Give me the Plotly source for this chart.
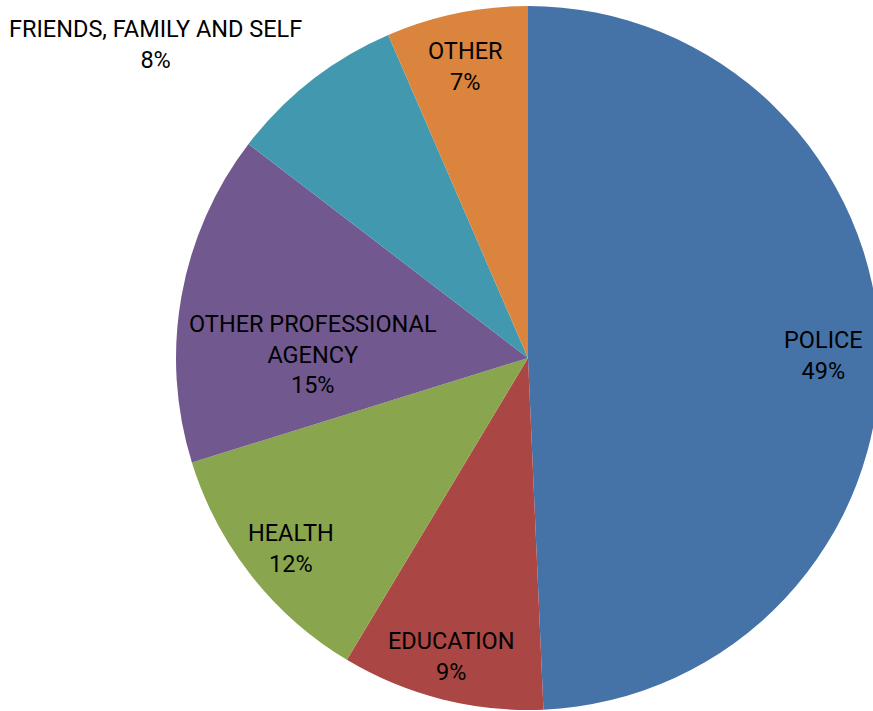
import math
import plotly.graph_objects as go

categories = ["POLICE", "EDUCATION", "HEALTH", "OTHER PROFESSIONAL<br>AGENCY",
              "FRIENDS, FAMILY AND SELF", "OTHER"]
values = [49.3, 9.3, 11.6, 15.2, 8.1, 6.5]
colors = ["#4572A7", "#AA4643", "#89A54E", "#71588F", "#4198AF", "#DB843D"]

# label placement style (radial fraction of radius, angle offset in degrees)
label_frac = [0.84, 0.876, 0.864, 0.61, 1.383, 0.846]
label_dang = [0.7, 0.1, -0.7, -9.1, -12.0, -0.5]

W, H = 880, 711
cx, cy, r = 528.0, 358.0, 352.0  # pixel geometry of the pie

fig = go.Figure(go.Pie(
    labels=categories,
    values=values,
    sort=False,
    direction="clockwise",
    rotation=0,
    marker=dict(colors=colors, line=dict(width=0)),
    textinfo="none",
    hoverinfo="label+percent",
    showlegend=False,
    domain=dict(x=[(cx - r) / W, min(1.0, (cx + r) / W)],
                y=[max(0.0, 1 - (cy + r) / H), min(1.0, 1 - (cy - r) / H)]),
))

total = sum(values)
cum = 0.0
annotations = []
for lab, v, f, da in zip(categories, values, label_frac, label_dang):
    mid = (cum + v / 2) / total * 360.0 + da
    cum += v
    th = math.radians(mid)
    px = cx + f * r * math.sin(th)
    py = cy - f * r * math.cos(th)
    pct = int(math.floor(v / total * 100 + 0.5))
    annotations.append(dict(
        x=px / W, y=1 - py / H, xref="paper", yref="paper",
        text=f"{lab}<br>{pct}%", showarrow=False,
        xanchor="center", yanchor="middle", align="center",
        font=dict(family="Roboto", size=23.5, color="#000000"),
    ))

fig.update_layout(
    width=W, height=H,
    margin=dict(l=0, r=0, t=0, b=0),
    paper_bgcolor="white", plot_bgcolor="white",
    annotations=annotations,
)

fig.write_html("out.html",
               config={"displayModeBar": False},
               post_script="document.body.style.margin='0';"
                           "document.body.style.overflow='hidden';")
